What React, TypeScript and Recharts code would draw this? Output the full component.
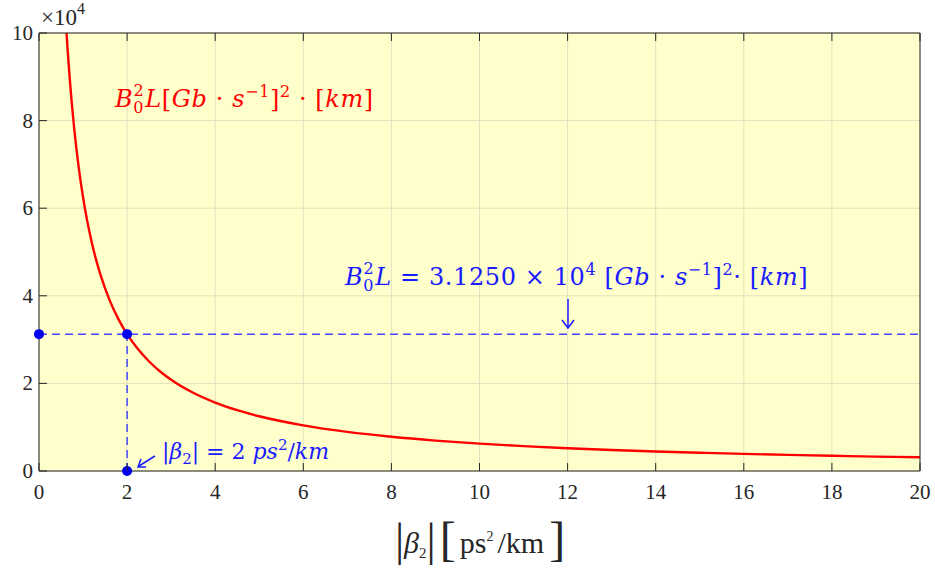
import React from "react";
import {
  ComposedChart,
  Line,
  Scatter,
  XAxis,
  YAxis,
  CartesianGrid,
  ReferenceLine,
} from "recharts";

// |beta2| in ps^2/km
const beta2Values = [
  0.625, 0.65, 0.7, 0.75, 0.8, 0.9, 1.0, 1.1, 1.2, 1.3, 1.4, 1.6, 1.8, 2.0,
  2.25, 2.5, 2.75, 3.0, 3.5, 4.0, 4.5, 5.0, 6.0, 7.0, 8.0, 9.0, 10.0, 11.0,
  12.0, 13.0, 14.0, 15.0, 16.0, 17.0, 18.0, 19.0, 20.0,
];
// B0^2 L in (Gb/s)^2 * km
const b2lValues = [
  100000, 96154, 89286, 83333, 78125, 69444, 62500, 56818, 52083, 48077,
  44643, 39063, 34722, 31250, 27778, 25000, 22727, 20833, 17857, 15625,
  13889, 12500, 10417, 8929, 7813, 6944, 6250, 5682, 5208, 4808, 4464, 4167,
  3906, 3676, 3472, 3289, 3125,
];

// Operating point markers
const markerBeta2 = [0, 2, 2];
const markerB2L = [31250, 31250, 0];
const operatingBeta2 = 2;
const operatingB2L = 31250;

const xTicks = [0, 2, 4, 6, 8, 10, 12, 14, 16, 18, 20];
const yTicks = [0, 20000, 40000, 60000, 80000, 100000];

const curveData = beta2Values.map((x, i) => ({ x, y: b2lValues[i] }));
const markerData = markerBeta2.map((x, i) => ({ x, y: markerB2L[i] }));

const W = 935;
const H = 569;
const AXIS = "#262626";
const SERIF = "'Liberation Serif', 'Times New Roman', serif";
const MATH = "'DejaVu Serif', serif";
const BLUE = "#1a1aff";
const TICK_LEN = 8;

const BottomTick = (props: any) => {
  const { x, y, payload } = props;
  return (
    <g>
      <line x1={x} y1={y} x2={x} y2={y - TICK_LEN} stroke={AXIS} strokeWidth={1} />
      <text x={x} y={y + 28} textAnchor="middle" fontFamily={SERIF} fontSize={21} fill={AXIS}>
        {payload.value}
      </text>
    </g>
  );
};

const TopTick = (props: any) => {
  const { x, y } = props;
  return <line x1={x} y1={y} x2={x} y2={y + TICK_LEN} stroke={AXIS} strokeWidth={1} />;
};

const LeftTick = (props: any) => {
  const { x, y, payload } = props;
  return (
    <g>
      <line x1={x} y1={y} x2={x + TICK_LEN} y2={y} stroke={AXIS} strokeWidth={1} />
      <text x={x - 6} y={y + 7} textAnchor="end" fontFamily={SERIF} fontSize={21} fill={AXIS}>
        {payload.value / 10000}
      </text>
    </g>
  );
};

const RightTick = (props: any) => {
  const { x, y } = props;
  return <line x1={x} y1={y} x2={x - TICK_LEN} y2={y} stroke={AXIS} strokeWidth={1} />;
};

const MarkerDot = (props: any) => {
  const { cx, cy } = props;
  return <circle cx={cx} cy={cy} r={5} fill="#0000ee" />;
};

// "B0^2 L" with stacked subscript / superscript
const B0L = ({ size }: { size: number }) => {
  const s = Math.round(size * 0.66);
  return (
    <>
      <tspan fontStyle="italic">B</tspan>
      <tspan dy={size * 0.27} fontSize={s}>0</tspan>
      <tspan dx={-s * 0.66} dy={-size * 0.72} fontSize={s}>2</tspan>
      <tspan dx={1} dy={size * 0.45} fontStyle="italic">L</tspan>
    </>
  );
};

export default function App() {
  return (
    <div style={{ position: "absolute", left: 0, top: 0, width: W, height: H, background: "#fff" }}>
      <ComposedChart
        width={W}
        height={H}
        data={curveData}
        margin={{ top: 0, right: 0, bottom: 0, left: 0 }}
      >
        <CartesianGrid
          xAxisId="b"
          yAxisId="l"
          fill="#FFFFCC"
          stroke="#E1E1BE"
          strokeWidth={1}
          horizontalValues={yTicks}
          verticalValues={xTicks}
        />
        <XAxis
          xAxisId="b"
          dataKey="x"
          type="number"
          domain={[0, 20]}
          ticks={xTicks}
          orientation="bottom"
          height={98}
          tickSize={0}
          tickMargin={0}
          tick={<BottomTick />}
          axisLine={{ stroke: AXIS, strokeWidth: 1 }}
          tickLine={false}
          interval={0}
        />
        <XAxis
          xAxisId="t"
          dataKey="x"
          type="number"
          domain={[0, 20]}
          ticks={xTicks}
          orientation="top"
          height={33}
          tickSize={0}
          tickMargin={0}
          tick={<TopTick />}
          axisLine={{ stroke: AXIS, strokeWidth: 1 }}
          tickLine={false}
          interval={0}
        />
        <YAxis
          yAxisId="l"
          type="number"
          domain={[0, 100000]}
          ticks={yTicks}
          orientation="left"
          width={39}
          tickSize={0}
          tickMargin={0}
          tick={<LeftTick />}
          axisLine={{ stroke: AXIS, strokeWidth: 1 }}
          tickLine={false}
          interval={0}
        />
        <YAxis
          yAxisId="r"
          type="number"
          domain={[0, 100000]}
          ticks={yTicks}
          orientation="right"
          width={15}
          tickSize={0}
          tickMargin={0}
          tick={<RightTick />}
          axisLine={{ stroke: AXIS, strokeWidth: 1 }}
          tickLine={false}
          interval={0}
        />
        <ReferenceLine
          xAxisId="b"
          yAxisId="l"
          y={operatingB2L}
          stroke="#4646ff"
          strokeWidth={1.5}
          strokeDasharray="8 5"
        />
        <ReferenceLine
          xAxisId="b"
          yAxisId="l"
          segment={[
            { x: operatingBeta2, y: 0 },
            { x: operatingBeta2, y: operatingB2L },
          ]}
          stroke="#4646ff"
          strokeWidth={1.5}
          strokeDasharray="8 5"
        />
        <Line
          xAxisId="b"
          yAxisId="l"
          dataKey="y"
          type="monotone"
          stroke="#ff0000"
          strokeWidth={2.4}
          dot={false}
          isAnimationActive={false}
        />
        <Scatter
          xAxisId="b"
          yAxisId="l"
          data={markerData}
          dataKey="y"
          shape={<MarkerDot />}
          isAnimationActive={false}
        />
      </ComposedChart>

      {/* annotations, exponent and axis title */}
      <svg
        width={W}
        height={H}
        style={{ position: "absolute", left: 0, top: 0, pointerEvents: "none" }}
      >
        <text x={41} y={25} fontFamily={SERIF} fontSize={23} fill={AXIS}>
          ×10
          <tspan dy={-11} fontSize={16}>4</tspan>
        </text>

        <text x={115} y={107} fontFamily={MATH} fontSize={24} letterSpacing={0.6} fill="#ff0000">
          <B0L size={24} />
          <tspan>[</tspan>
          <tspan fontStyle="italic">Gb</tspan>
          <tspan> · </tspan>
          <tspan fontStyle="italic">s</tspan>
          <tspan dy={-10} fontSize={16}>−1</tspan>
          <tspan dy={10}>]</tspan>
          <tspan dy={-10} fontSize={16}>2</tspan>
          <tspan dy={10}> · [</tspan>
          <tspan fontStyle="italic">km</tspan>
          <tspan>]</tspan>
        </text>

        <text x={345} y={285} fontFamily={MATH} fontSize={24} letterSpacing={0.6} fill={BLUE}>
          <B0L size={24} />
          <tspan> = 3.1250 × 10</tspan>
          <tspan dy={-10} fontSize={16}>4</tspan>
          <tspan dy={10}>  [</tspan>
          <tspan fontStyle="italic">Gb</tspan>
          <tspan> · </tspan>
          <tspan fontStyle="italic">s</tspan>
          <tspan dy={-10} fontSize={16}>−1</tspan>
          <tspan dy={10}>]</tspan>
          <tspan dy={-10} fontSize={16}>2</tspan>
          <tspan dy={10}>· [</tspan>
          <tspan fontStyle="italic">km</tspan>
          <tspan>]</tspan>
        </text>

        <line x1={568} y1={299} x2={568} y2={327} stroke={BLUE} strokeWidth={1.5} />
        <path d="M562,320 L568,328 L574,320" fill="none" stroke={BLUE} strokeWidth={1.5} />

        <text x={162} y={459} fontFamily={MATH} fontSize={22} fill={BLUE}>
          <tspan>|</tspan>
          <tspan fontStyle="italic">β</tspan>
          <tspan dy={5} fontSize={15}>2</tspan>
          <tspan dy={-5}>| = 2 </tspan>
          <tspan fontStyle="italic">ps</tspan>
          <tspan dy={-9} fontSize={15}>2</tspan>
          <tspan dy={9}>/</tspan>
          <tspan fontStyle="italic">km</tspan>
        </text>
        <line x1={155} y1={456} x2={139} y2={466} stroke={BLUE} strokeWidth={1.5} />
        <path d="M141,459 L138,467 L146,467" fill="none" stroke={BLUE} strokeWidth={1.5} />

        <text x={480} y={553} textAnchor="middle" fontFamily={SERIF} fontSize={30} fill={AXIS}>
          <tspan fontSize={46} dy={2}>|</tspan>
          <tspan fontStyle="italic" dy={-2}>β</tspan>
          <tspan dy={5} fontSize={15}>2</tspan>
          <tspan dy={-3} fontSize={46}>|</tspan>
          <tspan dx={4} fontSize={48}>[</tspan>
          <tspan dx={4} dy={-2}>ps</tspan>
          <tspan dy={-12} fontSize={14}>2</tspan>
          <tspan dx={4} dy={12}>/km</tspan>
          <tspan dx={5} dy={2} fontSize={48}>]</tspan>
        </text>
      </svg>
    </div>
  );
}
